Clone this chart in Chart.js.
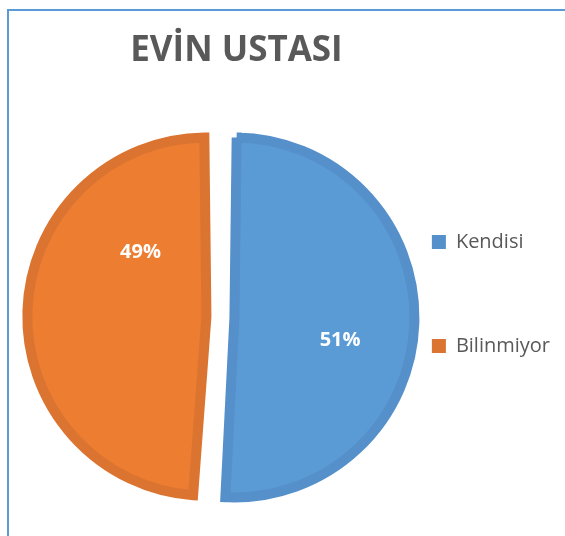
<!DOCTYPE html>
<html>
<head>
<meta charset="utf-8">
<script src="https://cdn.jsdelivr.net/npm/chart.js@4.4.0/dist/chart.umd.min.js"></script>
<style>
  html, body { margin: 0; padding: 0; background: #fff; overflow: hidden; }
  #moldura { position: absolute; left: 7px; top: 9px; width: 700px; height: 700px;
    border-left: 2px solid #5b9bd5; border-top: 2px solid #5b9bd5; }
  #grafico { position: absolute; left: 0; top: 0; }
</style>
</head>
<body>
<div id="moldura"></div>
<canvas id="grafico" width="565" height="536"></canvas>
<script>
const titulo = 'EVİN USTASI';
const categorias = ['Kendisi', 'Bilinmiyor'];
const valores = [51, 49];

const coresFundo = ['#5b9bd5', '#ed7d31'];
const coresBorda = ['#5590cb', '#db7430'];
const corTexto = '#595959';

// posicao dos rotulos: giro (graus) a partir do meio da fatia, raio em fracao
const posRotulo = [{ giro: 9.4, raio: 0.735 }, { giro: 37.3, raio: 0.62 }];

// rotulos de porcentagem dentro das fatias
const rotulosPlugin = {
  id: 'rotulos',
  afterDatasetsDraw(chart) {
    const ctx = chart.ctx;
    const meta = chart.getDatasetMeta(0);
    const total = valores.reduce((a, b) => a + b, 0);
    ctx.save();
    ctx.font = 'bold 20px "Open Sans"';
    ctx.fillStyle = '#ffffff';
    ctx.textAlign = 'center';
    ctx.textBaseline = 'middle';
    meta.data.forEach((arc, i) => {
      const { x, y, startAngle, endAngle, outerRadius } =
        arc.getProps(['x', 'y', 'startAngle', 'endAngle', 'outerRadius'], true);
      const ang = (startAngle + endAngle) / 2 + posRotulo[i].giro * Math.PI / 180;
      const r = outerRadius * posRotulo[i].raio;
      ctx.fillText(Math.round(valores[i] / total * 100) + '%', x + Math.cos(ang) * r, y + Math.sin(ang) * r);
    });
    ctx.restore();
  }
};

// o titulo fica um pouco a direita do centro da pizza
const tituloPlugin = {
  id: 'tituloDesloc',
  afterLayout(chart) {
    const t = chart.titleBlock;
    const w = t.right - t.left;
    const c = (chart.chartArea.left + chart.chartArea.right) / 2 + 16;
    t.left = c - w / 2;
    t.right = c + w / 2;
  }
};

const ctx = document.getElementById('grafico').getContext('2d');
new Chart(ctx, {
  type: 'pie',
  data: {
    labels: categorias,
    datasets: [{
      data: valores,
      backgroundColor: coresFundo,
      borderColor: coresBorda,
      borderWidth: 10,
      borderAlign: 'center',
      borderJoinStyle: 'miter',
      offset: 56,
      radius: 166,
      clip: false
    }]
  },
  options: {
    responsive: false,
    animation: false,
    layout: { padding: { left: 93, right: 5, top: 0, bottom: 50 } },
    plugins: {
      title: {
        display: true,
        text: titulo,
        color: corTexto,
        font: { family: 'Open Sans', size: 35, weight: 'bold' },
        padding: { top: 30, bottom: 76 }
      },
      legend: {
        position: 'right',
        align: 'start',
        fullSize: false,
        labels: {
          color: corTexto,
          font: { family: 'Open Sans', size: 20 },
          boxWidth: 14,
          boxHeight: 14,
          padding: 84,
          generateLabels(chart) {
            const itens = Chart.overrides.doughnut.plugins.legend.labels.generateLabels(chart);
            return itens.map((it, i) => ({ ...it, fillStyle: coresBorda[i], lineWidth: 0 }));
          }
        }
      },
      tooltip: { enabled: false }
    }
  },
  plugins: [rotulosPlugin, tituloPlugin]
});
</script>
</body>
</html>
